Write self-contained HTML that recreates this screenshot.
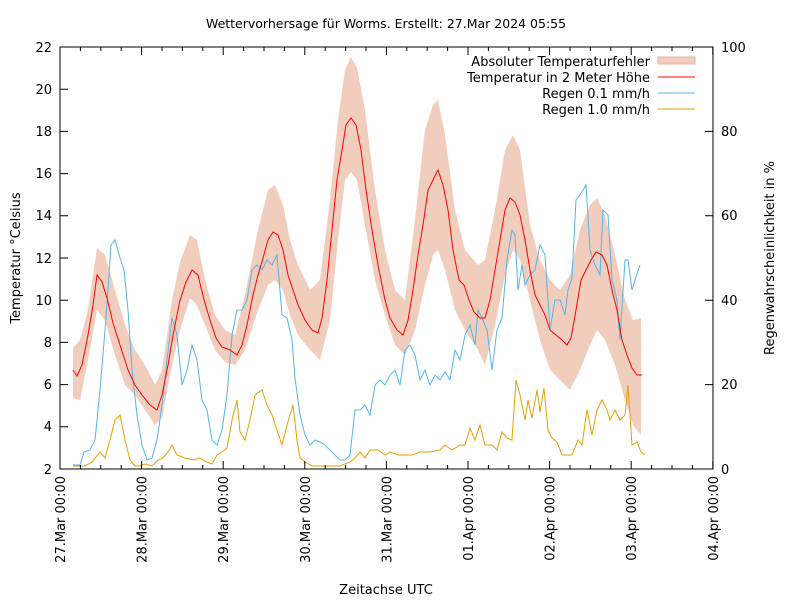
<!DOCTYPE html>
<html><head><meta charset="utf-8"><style>body{margin:0;background:#fff}svg{display:block;font-family:"DejaVu Sans","Liberation Sans",sans-serif}</style></head><body>
<svg width="800" height="600" viewBox="0 0 800 600" xmlns="http://www.w3.org/2000/svg">
<rect width="800" height="600" fill="#fff"/>
<text x="386" y="28" font-size="12.5" text-anchor="middle">Wettervorhersage für Worms. Erstellt: 27.Mar 2024 05:55</text>
<polygon fill="#f0cdbc" points="73,348 80,340 88,310 97,248 105,255 115,290 125,325 135,350 145,365 155,385 162,370 172,300 180,262 190,235 197,240 205,280 215,315 225,330 235,335 245,295 258,230 268,190 275,185 283,205 290,240 298,265 310,290 320,280 330,200 338,120 345,70 351,57 357,68 365,110 375,190 385,250 395,290 405,300 415,220 425,130 433,105 438,100 445,135 455,210 465,250 478,265 485,260 495,210 505,150 513,135 520,150 530,225 540,260 550,280 560,290 570,275 580,230 590,205 597,198 605,215 615,255 625,300 633,320 641,318 641,435 633,425 625,400 615,365 605,340 597,330 590,345 580,370 570,390 560,380 550,370 540,340 530,300 520,260 513,250 505,275 495,325 485,365 478,350 465,330 455,310 445,270 438,250 433,255 425,285 415,330 405,355 395,345 385,315 375,280 365,225 357,180 351,172 345,180 338,240 330,320 320,360 310,350 298,335 290,315 283,290 275,280 268,285 258,310 245,350 235,365 225,362 215,350 205,325 197,305 190,298 180,330 172,365 162,418 155,425 145,410 135,395 125,385 115,355 105,320 97,310 88,360 80,400 73,398"/>
<polyline fill="none" stroke="#e69f00" stroke-width="1" points="73,466 85,466 92,462 100,452 105,458 110,440 115,420 120,415 125,440 130,460 135,466 140,466 145,464 152,466 158,460 163,458 168,452 172,445 177,455 185,458 193,460 200,458 207,462 212,464 217,455 222,452 227,448 232,420 237,400 240,432 245,440 250,420 255,395 262,390 267,405 272,415 277,430 282,445 287,425 293,405 297,440 300,458 305,462 312,466 320,466 330,466 340,466 350,462 355,458 360,452 365,458 370,450 378,450 385,455 390,452 398,455 405,455 412,455 420,452 430,452 440,450 445,445 452,450 460,445 465,445 470,428 475,440 480,425 485,445 492,445 497,450 502,432 507,438 512,440 516,380 520,395 525,420 528,400 532,418 537,390 540,412 544,388 548,430 552,438 557,442 562,455 567,455 572,455 578,440 582,445 587,410 592,435 597,410 602,400 607,410 610,420 615,410 620,420 625,415 628,385 632,445 637,442 641,452 645,455"/>
<polyline fill="none" stroke="#56b4e9" stroke-width="1" points="73,465 80,465 84,452 90,450 95,440 100,390 105,330 108,290 111,245 115,240 120,258 124,270 128,310 132,370 137,415 142,445 147,460 152,458 157,440 162,405 167,360 172,318 177,335 182,385 187,370 192,345 197,360 202,400 207,410 212,440 217,445 222,430 227,395 232,335 237,310 242,310 247,300 252,270 257,265 262,270 267,260 272,265 277,255 282,315 287,318 292,340 295,378 300,415 305,435 310,445 315,440 320,442 325,445 330,450 335,455 340,460 345,460 350,455 355,410 360,410 365,405 370,415 375,385 380,380 385,385 390,375 395,370 400,385 405,350 410,345 415,355 420,380 425,370 430,385 435,375 440,380 445,372 450,380 455,350 460,360 465,335 470,325 475,345 478,310 482,318 487,330 492,370 497,330 502,318 507,260 512,230 515,235 518,290 522,265 525,285 530,275 535,270 540,245 545,255 550,330 555,300 560,300 565,315 568,290 572,278 576,200 580,195 586,185 590,250 595,265 600,275 603,210 608,215 612,280 617,300 620,340 625,260 628,260 632,290 635,280 640,265"/>
<polyline fill="none" stroke="#ff0000" stroke-width="1" points="73,370 77,376 82,365 88,335 93,305 97,275 102,282 107,298 113,323 120,345 128,370 135,385 142,395 150,405 157,410 162,395 168,365 173,335 180,300 186,282 192,270 198,275 204,300 210,320 216,338 222,347 230,350 237,355 242,345 247,325 253,295 258,275 263,258 268,240 273,232 278,235 283,250 288,275 293,290 298,305 305,320 312,330 318,333 322,318 327,280 332,230 337,180 342,150 346,125 351,118 356,125 361,150 366,190 372,230 378,265 385,300 390,318 397,330 403,335 408,320 413,290 418,255 423,225 428,190 433,180 438,170 443,185 448,210 453,250 459,280 464,285 469,300 474,312 480,318 485,318 490,300 495,270 500,240 505,210 510,198 515,202 520,215 525,240 530,270 535,295 540,305 545,315 550,330 556,335 562,340 567,345 571,338 576,310 581,280 586,270 591,260 596,252 602,255 607,265 612,290 617,310 622,340 627,355 632,368 637,375 642,375"/>
<rect x="60" y="47" width="653" height="422" fill="none" stroke="#000" stroke-width="1"/>
<g stroke="#000" stroke-width="1">
<path d="M60,469v-8M141.6,469v-8M223.2,469v-8M304.8,469v-8M386.4,469v-8M468,469v-8M549.6,469v-8M631.2,469v-8M712.8,469v-8M60,47v8M141.6,47v8M223.2,47v8M304.8,47v8M386.4,47v8M468,47v8M549.6,47v8M631.2,47v8M712.8,47v8"/>
<path d="M80.4,469v-4M100.8,469v-4M121.2,469v-4M162,469v-4M182.4,469v-4M202.8,469v-4M243.6,469v-4M264,469v-4M284.4,469v-4M325.2,469v-4M345.6,469v-4M366,469v-4M406.8,469v-4M427.2,469v-4M447.6,469v-4M488.4,469v-4M508.8,469v-4M529.2,469v-4M570,469v-4M590.4,469v-4M610.8,469v-4M651.6,469v-4M672,469v-4M692.4,469v-4M80.4,47v4M100.8,47v4M121.2,47v4M162,47v4M182.4,47v4M202.8,47v4M243.6,47v4M264,47v4M284.4,47v4M325.2,47v4M345.6,47v4M366,47v4M406.8,47v4M427.2,47v4M447.6,47v4M488.4,47v4M508.8,47v4M529.2,47v4M570,47v4M590.4,47v4M610.8,47v4M651.6,47v4M672,47v4M692.4,47v4"/>
<path d="M60,47h8M60,89.2h8M60,131.4h8M60,173.6h8M60,215.8h8M60,258h8M60,300.2h8M60,342.4h8M60,384.6h8M60,426.8h8M60,469h8"/>
<path d="M713,469h-8M713,384.6h-8M713,300.2h-8M713,215.8h-8M713,131.4h-8M713,47h-8"/>
</g>
<g font-size="13" text-anchor="end">
<text x="52" y="52">22</text><text x="52" y="94">20</text><text x="52" y="136">18</text><text x="52" y="178">16</text><text x="52" y="220">14</text><text x="52" y="263">12</text><text x="52" y="305">10</text><text x="52" y="347">8</text><text x="52" y="389">6</text><text x="52" y="431">4</text><text x="52" y="474">2</text>
</g>
<g font-size="13" text-anchor="start">
<text x="721" y="474">0</text><text x="721" y="389">20</text><text x="721" y="305">40</text><text x="721" y="220">60</text><text x="721" y="136">80</text><text x="721" y="52">100</text>
</g>
<g font-size="13" text-anchor="end">
<text transform="translate(65,476) rotate(-90)">27.Mar 00:00</text>
<text transform="translate(146.6,476) rotate(-90)">28.Mar 00:00</text>
<text transform="translate(228.2,476) rotate(-90)">29.Mar 00:00</text>
<text transform="translate(309.8,476) rotate(-90)">30.Mar 00:00</text>
<text transform="translate(391.4,476) rotate(-90)">31.Mar 00:00</text>
<text transform="translate(473,476) rotate(-90)">01.Apr 00:00</text>
<text transform="translate(554.6,476) rotate(-90)">02.Apr 00:00</text>
<text transform="translate(636.2,476) rotate(-90)">03.Apr 00:00</text>
<text transform="translate(717.8,476) rotate(-90)">04.Apr 00:00</text>
</g>
<text x="386" y="594" font-size="13" text-anchor="middle">Zeitachse UTC</text>
<text transform="translate(20,258) rotate(-90)" font-size="13" text-anchor="middle">Temperatur °Celsius</text>
<text transform="translate(774,258) rotate(-90)" font-size="13" text-anchor="middle">Regenwahrscheinlichkeit in %</text>
<g font-size="13" text-anchor="end">
<text x="650" y="66">Absoluter Temperaturfehler</text>
<text x="650" y="82">Temperatur in 2 Meter Höhe</text>
<text x="650" y="98">Regen 0.1 mm/h</text>
<text x="650" y="114">Regen 1.0 mm/h</text>
</g>
<rect x="658" y="57" width="37" height="7" fill="#f0cdbc" stroke="#e0b8a5" stroke-width="1"/>
<line x1="658" y1="77" x2="695" y2="77" stroke="#ff0000"/>
<line x1="658" y1="93" x2="695" y2="93" stroke="#56b4e9"/>
<line x1="658" y1="109" x2="695" y2="109" stroke="#e69f00"/>
</svg>
</body></html>
